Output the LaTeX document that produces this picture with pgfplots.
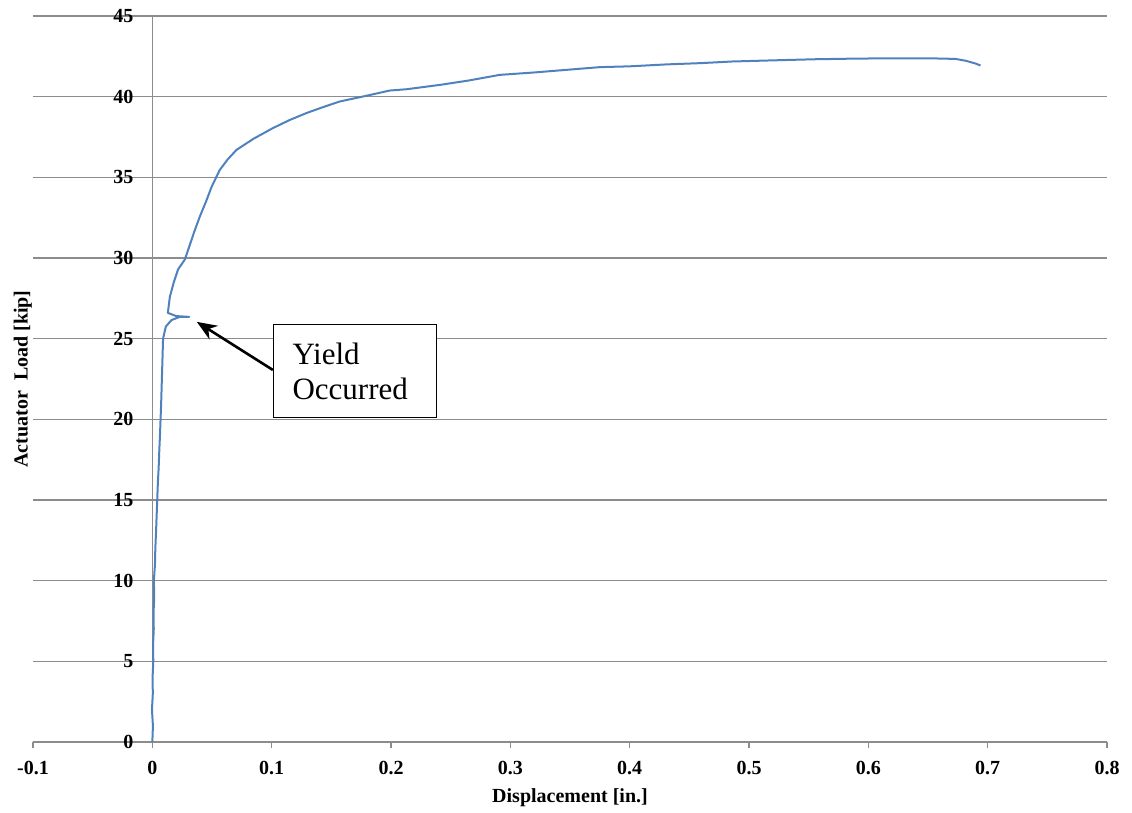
\documentclass[border=0pt]{standalone}
\usepackage{fontspec}
\setmainfont{Liberation Serif}
\usepackage{pgfplots}
\pgfplotsset{compat=1.18}
\usetikzlibrary{arrows.meta}
\definecolor{xlblue}{RGB}{79,129,189}
\definecolor{gridgray}{RGB}{140,140,140}

\begin{document}
\begin{tikzpicture}
\begin{axis}[
  name=ax,
  scale only axis,
  width=537pt, height=363pt,
  xmin=-0.1, xmax=0.8, ymin=0, ymax=45,
  xtick={-0.1,0,0.1,0.2,0.3,0.4,0.5,0.6,0.7,0.8},
  ytick={0,5,10,15,20,25,30,35,40,45},
  axis lines=middle,
  axis line style={-, gridgray, line width=0.6pt},
  hide obscured x ticks=false,
  hide obscured y ticks=false,
  ymajorgrids,
  grid style={gridgray, line width=0.6pt},
  tick style={gridgray, line width=0.6pt},
  tick align=outside,
  major tick length=3pt,
  /pgf/number format/assume math mode=true,
  /pgf/number format/fixed,
  ticklabel style={font=\bfseries\fontsize{10}{12}\selectfont},
  xticklabel style={yshift=-3pt},
  yticklabel style={xshift=-3pt},
  xlabel={Displacement [in.]},
  ylabel={Actuator\enspace Load [kip]},
  xlabel style={font=\bfseries\fontsize{10}{12}\selectfont, at={(axis description cs:0.5,0)}, anchor=north, yshift=-20pt},
  ylabel style={font=\bfseries\fontsize{10}{12}\selectfont, at={(axis description cs:0.0056,0.5)}, anchor=south, rotate=90},
  clip=false,
]
\addplot[xlblue, line width=1pt, line join=round] coordinates {
(0,0) (0.0005,1.0) (-0.0003,2.0) (0.0004,3.0) (0.0002,4.0) (0.0008,5.0)
(0.0006,6.0) (0.0012,7.0) (0.0010,8.0) (0.0016,9.0) (0.0013,10.0)
(0.0022,11.0) (0.0025,12.0) (0.0031,13.0) (0.0036,14.0) (0.0041,15.0)
(0.0046,16.0) (0.0053,17.0) (0.0058,18.0) (0.0064,19.0) (0.0069,20.0)
(0.0074,21.0) (0.0078,22.0) (0.0082,23.0) (0.0086,24.0) (0.0090,25.0)
(0.0113,25.75) (0.0160,26.15) (0.0230,26.35) (0.0310,26.35) (0.0200,26.40)
(0.0130,26.60) (0.0147,27.6) (0.0180,28.5) (0.0216,29.3) (0.0272,29.9)
(0.0300,30.5) (0.0350,31.6) (0.0398,32.57) (0.0450,33.5) (0.0496,34.4)
(0.0565,35.46) (0.0630,36.1) (0.0705,36.7) (0.0850,37.4) (0.101,38.05)
(0.115,38.55) (0.129,38.98) (0.143,39.35) (0.157,39.7) (0.179,40.05)
(0.199,40.38) (0.213,40.46) (0.241,40.73) (0.265,41.0) (0.291,41.35)
(0.320,41.5) (0.350,41.68) (0.375,41.83) (0.400,41.88) (0.431,42.0)
(0.460,42.08) (0.486,42.18) (0.520,42.25) (0.556,42.32) (0.590,42.36)
(0.626,42.38) (0.650,42.38) (0.673,42.34) (0.682,42.22) (0.690,42.05)
(0.694,41.93)
};
% annotation
\node[draw=black, line width=0.7pt, fill=white, align=left, text width=62.5pt,
  inner xsep=9.5pt, minimum width=81.5pt, minimum height=46.5pt,
  font=\fontsize{15.5}{17.5}\selectfont, anchor=north west]
  at (axis cs:0.101,25.91) {Yield\\Occurred};
\draw[black, line width=1.3pt, -{Stealth[length=10pt,width=8pt]}]
  (axis cs:0.101,23.06) -- (axis cs:0.0373,26.04);
\end{axis}
\pgfresetboundingbox
\path[use as bounding box] ([xshift=-16.5pt,yshift=-35pt]ax.south west) rectangle ([xshift=12.5pt,yshift=8pt]ax.north east);
\end{tikzpicture}
\end{document}
